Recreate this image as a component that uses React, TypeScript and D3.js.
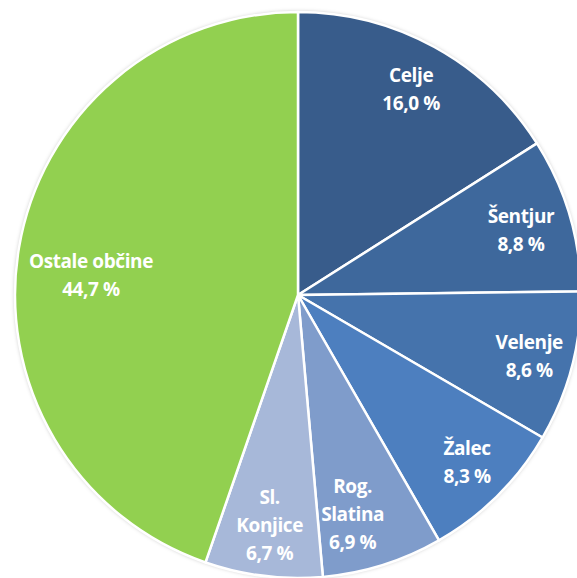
import React from "react";
import * as d3 from "d3";

const categories = ["Celje", "Šentjur", "Velenje", "Žalec", "Rog. Slatina", "Sl. Konjice", "Ostale občine"];
const labelLines = [["Celje"], ["Šentjur"], ["Velenje"], ["Žalec"], ["Rog.", "Slatina"], ["Sl.", "Konjice"], ["Ostale občine"]];
const values = [16.0, 8.8, 8.6, 8.3, 6.9, 6.7, 44.7];
const valueLabels = ["16,0 %", "8,8 %", "8,6 %", "8,3 %", "6,9 %", "6,7 %", "44,7 %"];
const colors = ["#385C8B", "#3E689C", "#4573AC", "#4D7FBF", "#7F9CCB", "#A7B8D9", "#92D050"];

export default function App() {
  const W = 577, H = 578;
  const cx = 298, cy = 295, r = 283;
  const pie = d3.pie<number>().sort(null).value((d) => d)(values);
  const arc = d3.arc<d3.PieArcDatum<number>>().innerRadius(0).outerRadius(r);
  // label placement (radius fraction, angle shift in degrees) mimicking best-fit placement
  const nudge: [number, number][] = [[0.83, 0], [0.82, 0.5], [0.845, 0], [0.84, -0.5], [0.8, 3.5], [0.82, 0], [0.735, -4]];
  const lineH = 28;
  return (
    <svg width={W} height={H} style={{ position: "absolute", left: 0, top: 0, fontFamily: "'Open Sans', sans-serif" }}>
      <defs>
        <filter id="sh" x="-10%" y="-10%" width="120%" height="120%">
          <feDropShadow dx="0" dy="0" stdDeviation="2" floodColor="#000" floodOpacity="0.3" />
        </filter>
      </defs>
      <rect width={W} height={H} fill="#fff" />
      <g transform={`translate(${cx},${cy})`}>
        <circle r={r} fill="#fff" filter="url(#sh)" />
        {pie.map((p, i) => (
          <path key={categories[i]} d={arc(p) || ""} fill={colors[i]} stroke="#fff" strokeWidth={2.5} strokeLinejoin="round" />
        ))}
        {pie.map((p, i) => {
          const [f, da] = nudge[i];
          const a = (p.startAngle + p.endAngle) / 2 + (da * Math.PI) / 180;
          const x = Math.sin(a) * r * f;
          const y = -Math.cos(a) * r * f;
          const lines = [...labelLines[i], valueLabels[i]];
          const y0 = y - ((lines.length - 1) * lineH) / 2;
          return (
            <text key={"t" + i} x={x} textAnchor="middle" fill="#fff" fontWeight="bold" fontSize={19} letterSpacing={-0.4}>
              {lines.map((l, j) => (
                <tspan key={j} x={x} y={y0 + j * lineH} dy="0.35em">{l}</tspan>
              ))}
            </text>
          );
        })}
      </g>
    </svg>
  );
}
